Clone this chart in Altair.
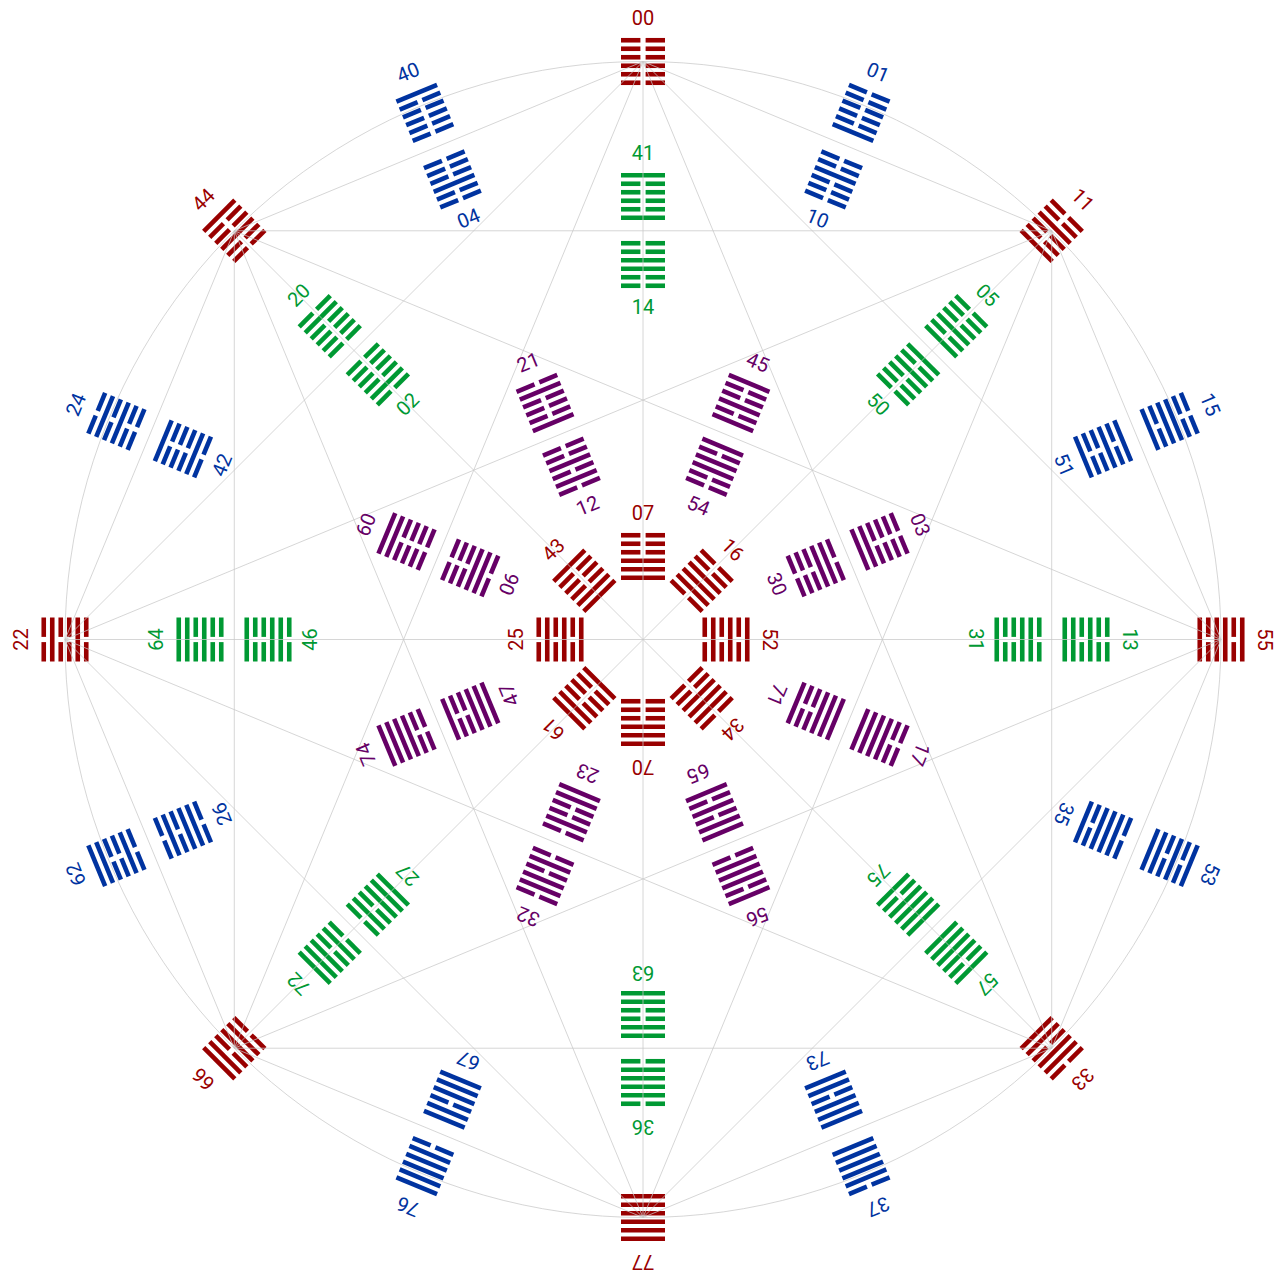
import math
import altair as alt
import pandas as pd

# ---------------- data: hexagram labels (octal) per ring ----------------
main_angles = [0, 45, 90, 135, 180, 225, 270, 315]
mid_angles = [22.5, 67.5, 112.5, 157.5, 202.5, 247.5, 292.5, 337.5]

red_outer = ["55", "11", "00", "44", "22", "66", "77", "33"]
red_inner = ["52", "16", "07", "43", "25", "61", "70", "34"]
green_outer = ["13", "05", "41", "20", "64", "72", "36", "57"]
green_inner = ["31", "50", "14", "02", "46", "27", "63", "75"]
blue_outer = ["15", "01", "40", "24", "62", "76", "37", "53"]
blue_inner = ["51", "10", "04", "42", "26", "67", "73", "35"]
purple_outer = ["03", "45", "21", "60", "74", "32", "56", "17"]
purple_inner = ["30", "54", "12", "06", "47", "23", "65", "71"]

groups = ["red", "green", "blue", "purple"]
group_colors = ["#990000", "#009933", "#0033a0", "#660066"]

# ---------------- layout constants ----------------
R_NODE = 578
rings = [
    (red_outer, main_angles, 578, "red", 1),
    (red_inner, main_angles, 83, "red", 1),
    (green_outer, main_angles, 443, "green", 1),
    (green_inner, main_angles, 375, "green", -1),
    (blue_outer, mid_angles, 570, "blue", 1),
    (blue_inner, mid_angles, 498, "blue", -1),
    (purple_outer, mid_angles, 256, "purple", 1),
    (purple_inner, mid_angles, 187, "purple", -1),
]
HALF_W = 22.0
GAP = 2.6
PITCH = 8.5
LABEL_OFF = 43

seg_rows = []
label_rows = []
for labels, angles, radius, grp, side in rings:
    for lab, ang in zip(labels, angles):
        th = math.radians(ang)
        ux, uy = math.cos(th), math.sin(th)
        rx, ry = math.sin(th), -math.cos(th)
        cx, cy = radius * ux, radius * uy
        val = int(lab, 8)
        for k in range(6):
            bit = (val >> (5 - k)) & 1
            off = (2.5 - k) * PITCH
            bx, by = cx + off * ux, cy + off * uy
            if bit:
                parts = [(-HALF_W, HALF_W)]
            else:
                parts = [(-HALF_W, -GAP), (GAP, HALF_W)]
            for a, b in parts:
                seg_rows.append({
                    "x": bx + a * rx, "y": by + a * ry,
                    "x2": bx + b * rx, "y2": by + b * ry,
                    "group": grp, "hex": lab,
                })
        lx = cx + side * LABEL_OFF * ux
        ly = cy + side * LABEL_OFF * uy
        label_rows.append({"x": lx, "y": ly, "label": lab, "group": grp,
                           "angle": (90 - ang) % 360})

seg_df = pd.DataFrame(seg_rows)
label_df = pd.DataFrame(label_rows)

# grid: all chords between the eight outer red nodes, plus circle
node_pts = [(R_NODE * math.cos(math.radians(a)), R_NODE * math.sin(math.radians(a))) for a in main_angles]
grid_rows = []
for i in range(8):
    for j in range(i + 1, 8):
        grid_rows.append({"x": node_pts[i][0], "y": node_pts[i][1],
                          "x2": node_pts[j][0], "y2": node_pts[j][1]})
grid_df = pd.DataFrame(grid_rows)

circle_df = pd.DataFrame([
    {"x": R_NODE * math.cos(math.radians(d)), "y": R_NODE * math.sin(math.radians(d)), "o": d}
    for d in range(0, 361, 2)
])

XS = alt.Scale(domain=[-635, 632], nice=False, zero=False)
YS = alt.Scale(domain=[-634.5, 631.5], nice=False, zero=False)
CS = alt.Scale(domain=groups, range=group_colors)

bars = alt.Chart(seg_df).mark_rule(strokeWidth=4.6, strokeCap="butt").encode(
    x=alt.X("x:Q", scale=XS, axis=None),
    y=alt.Y("y:Q", scale=YS, axis=None),
    x2="x2:Q", y2="y2:Q",
    color=alt.Color("group:N", scale=CS, legend=None),
)

grid = alt.Chart(grid_df).mark_rule(strokeWidth=1, color="#c8c8c8", opacity=0.75).encode(
    x=alt.X("x:Q", scale=XS, axis=None),
    y=alt.Y("y:Q", scale=YS, axis=None),
    x2="x2:Q", y2="y2:Q",
)

circle = alt.Chart(circle_df).mark_line(strokeWidth=1, color="#c8c8c8", opacity=0.75).encode(
    x=alt.X("x:Q", scale=XS, axis=None),
    y=alt.Y("y:Q", scale=YS, axis=None),
    order="o:Q",
)

texts = alt.Chart(label_df).mark_text(font="Roboto", fontSize=20, align="center",
                                       baseline="middle").encode(
    x=alt.X("x:Q", scale=XS, axis=None),
    y=alt.Y("y:Q", scale=YS, axis=None),
    text="label:N",
    angle=alt.Angle("angle:Q", scale=None),
    color=alt.Color("group:N", scale=CS, legend=None),
)

chart = alt.layer(circle, bars, grid, texts).properties(
    width=1267, height=1266, padding=0, autosize=alt.AutoSizeParams(type="none")
).configure_view(strokeWidth=0)

chart.save("out.html", embed_options={"renderer": "svg", "actions": False})
